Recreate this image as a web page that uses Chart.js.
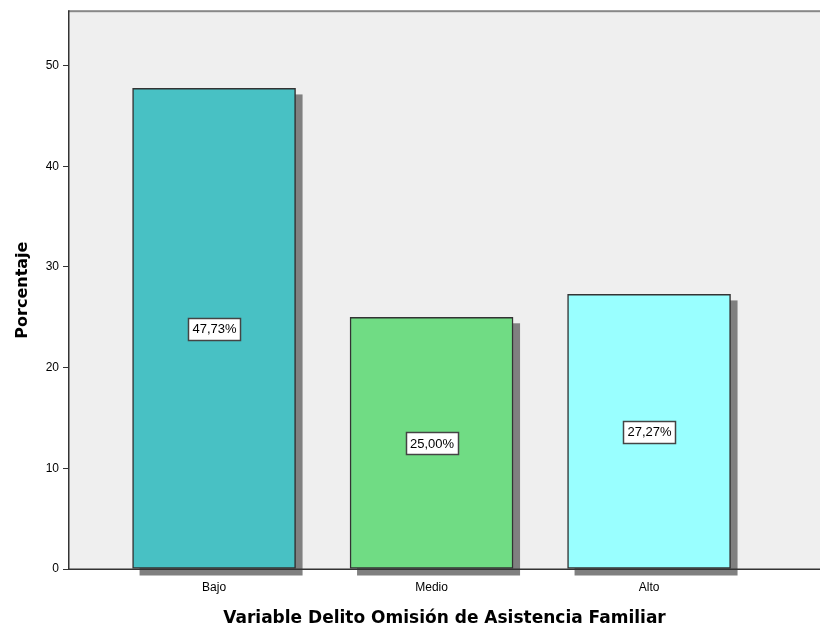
<!DOCTYPE html>
<html>
<head>
<meta charset="utf-8">
<script src="https://cdn.jsdelivr.net/npm/chart.js@4"></script>
<style>
  html, body { margin: 0; padding: 0; background: #fff; }
  #wrap { width: 820px; height: 630px; }
</style>
</head>
<body>
<div id="wrap"><canvas id="chart" width="820" height="630"></canvas></div>
<script>
const categories = ['Bajo', 'Medio', 'Alto'];
const percentages = [47.73, 25.00, 27.27];
const valueLabels = ['47,73%', '25,00%', '27,27%'];
const barColors = ['#48c1c4', '#70dc84', '#99ffff'];
const yTicks = [0, 10, 20, 30, 40, 50];

// plot background + top border + bar shadows under the bars, value boxes on top
const backdrop = {
  id: 'backdrop',
  beforeDatasetsDraw(chart) {
    const { ctx, chartArea: a } = chart;
    ctx.save();
    ctx.fillStyle = '#efefef';
    ctx.fillRect(a.left, a.top, a.right - a.left, a.bottom - a.top);
    ctx.fillStyle = '#888888';
    ctx.fillRect(a.left, a.top - 1, a.right - a.left, 2);
    ctx.fillStyle = '#808080';
    chart.getDatasetMeta(0).data.forEach(bar => {
      const w = bar.width;
      ctx.fillRect(bar.x - w / 2 + 7, bar.y + 6, w, bar.base - bar.y + 1);
    });
    ctx.fillStyle = '#333';
    ctx.fillRect(a.left - 1, a.top - 1, 1.5, a.bottom - a.top + 1);
    ctx.restore();
  },
  afterDatasetsDraw(chart) {
    const { ctx, chartArea: a } = chart;
    const y = chart.scales.y;
    ctx.save();
    ctx.fillStyle = '#333';
    ctx.fillRect(a.left - 1, a.bottom - 0.5, a.right - a.left + 1, 1.5);
    ctx.font = '13px "Liberation Sans", Arial, sans-serif';
    ctx.textAlign = 'center';
    ctx.textBaseline = 'middle';
    chart.getDatasetMeta(0).data.forEach((bar, i) => {
      const cy = y.getPixelForValue(percentages[i] / 2);
      const tw = ctx.measureText(valueLabels[i]).width;
      const bw = Math.round(tw + 8), bh = 22;
      const bx = Math.round(bar.x - bw / 2), by = Math.round(cy - bh / 2);
      ctx.fillStyle = '#ffffff';
      ctx.fillRect(bx, by, bw, bh);
      ctx.strokeStyle = '#444';
      ctx.lineWidth = 1.5;
      ctx.strokeRect(bx + 0.5, by + 0.5, bw, bh);
      ctx.fillStyle = '#000';
      ctx.fillText(valueLabels[i], bar.x + 0.5, cy + 1);
    });
    ctx.restore();
  }
};

new Chart(document.getElementById('chart'), {
  type: 'bar',
  data: {
    datasets: [{
      data: percentages.map((v, i) => ({ x: i, y: v })),
      backgroundColor: barColors,
      borderColor: '#333',
      borderWidth: 1.5,
      borderSkipped: false,
      barThickness: 163
    }]
  },
  options: {
    responsive: false,
    animation: false,
    layout: { padding: { top: 11, right: 0, left: 0, bottom: 0 } },
    plugins: {
      legend: { display: false },
      tooltip: { enabled: false }
    },
    scales: {
      x: {
        type: 'linear',
        offset: false,
        min: -0.667,
        max: 2.786,
        afterBuildTicks(s) { s.ticks = categories.map((c, i) => ({ value: i })); },
        afterFit(s) { s.height = 61; },
        border: { display: false },
        grid: { drawOnChartArea: false, offset: false, tickLength: 5, color: '#333', tickColor: '#333' },
        ticks: {
          callback: (v) => categories[v],
          color: '#000',
          padding: 6,
          maxRotation: 0,
          font: { family: '"Liberation Sans", Arial, sans-serif', size: 12 }
        },
        title: {
          display: true,
          text: 'Variable Delito Omisión de Asistencia Familiar',
          color: '#000',
          padding: { top: 0, bottom: 1 },
          font: { family: '"DejaVu Sans", Verdana, sans-serif', size: 17, weight: 'bold' }
        }
      },
      y: {
        min: 0,
        max: 55.4,
        afterBuildTicks(s) { s.ticks = yTicks.map(v => ({ value: v })); },
        afterFit(s) { s.width = 69; },
        border: { display: false },
        grid: { drawOnChartArea: false, tickLength: 6, color: '#333', tickColor: '#333' },
        ticks: {
          color: '#000',
          padding: 4,
          font: { family: '"Liberation Sans", Arial, sans-serif', size: 12 }
        },
        title: {
          display: true,
          text: 'Porcentaje',
          color: '#000',
          padding: { top: 13, bottom: 0 },
          font: { family: '"DejaVu Sans", Verdana, sans-serif', size: 16, weight: 'bold' }
        }
      }
    }
  },
  plugins: [backdrop]
});
</script>
</body>
</html>
